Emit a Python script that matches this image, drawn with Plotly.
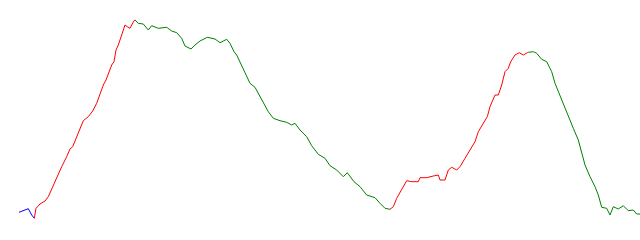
import plotly.graph_objects as go

# Segment data (x = time index, y = value)
blue_x = [0, 9.3, 12.7, 15.3]
blue_y = [27.7, 31.3, 25.0, 21.7]

red1_x = [15.3, 17, 21, 26, 29.3, 31, 34.3, 36.7, 39.3, 42.7, 47.7, 51, 53.7, 57.7, 62, 64.3, 69.3, 73.7, 77.7, 80, 82, 84.3, 87, 89.3, 92.7, 95, 97, 99.3, 101.7, 103.7, 106, 108.3, 110.3, 111, 115, 116]
red1_y = [21.7, 31.7, 36, 39, 43.3, 47.3, 53.3, 60, 65, 73.3, 83.3, 91, 93.3, 103.3, 113.3, 119.3, 123.3, 129, 136.7, 143.3, 149.3, 155, 160, 166.7, 175, 178.3, 190, 195, 201.7, 206.7, 215, 213.3, 211.7, 211.7, 219.3, 220]

green1_x = [116, 119.3, 124.3, 129.3, 132.7, 139.3, 147.7, 152.7, 157.7, 162.7, 166, 169.3, 172, 176, 181, 188.3, 196, 201, 207.7, 211, 215, 217.7, 221, 226, 231, 236, 241, 246, 249.3, 254.3, 261, 267.7, 272.7, 276, 281, 287.7, 292.7, 299.3, 306, 311, 317.7, 324.3, 328.3, 335, 341, 347.7, 356, 361, 366, 371]
green1_y = [220, 216.7, 216, 210, 214.3, 211.7, 212.7, 209, 207.3, 201.7, 194, 192.3, 191, 195, 199, 202.7, 201, 197.3, 200.7, 196.7, 188.3, 185, 178.3, 166.7, 156.7, 152.7, 143.3, 135, 128.3, 121.7, 119.3, 117.7, 115, 116.7, 110, 103.3, 94.3, 85.7, 81.7, 74.3, 70, 63.3, 67.3, 58.3, 53.3, 45, 42.3, 36.7, 31.7, 30.7]

red2_x = [371, 374.3, 377.7, 382.7, 387.7, 392.7, 399.3, 401, 407.7, 414.3, 419.3, 421, 426, 429.3, 432.7, 437.7, 441, 446, 451, 456, 459.3, 464.3, 468.3, 471, 476, 479.3, 482.7, 486, 489.3, 491.7, 496, 500.3, 504.3, 508.3, 509.3]
red2_y = [30.7, 33.3, 41.7, 50, 59.3, 58.3, 58.3, 62.3, 62.3, 64, 65, 60, 60, 70, 72.7, 70, 73.3, 81.7, 90, 98.3, 108.3, 116.7, 123.3, 133.3, 145, 145, 155, 168.3, 171.7, 178.3, 185, 187.3, 185, 187.3, 187.7]

green2_x = [509.3, 514.3, 517.7, 522.7, 527.7, 532.7, 536, 539.3, 544.3, 547.7, 551, 554.3, 559.3, 562.7, 566, 571, 576, 579.3, 582.7, 587.7, 591, 594.3, 599.3, 604.3, 609.3, 614.3, 617.7, 621]
green2_y = [187.7, 188.3, 186.7, 180.7, 178.3, 168.3, 156.7, 148.3, 136.7, 128.3, 118.3, 111.7, 100, 88.3, 75, 63.3, 53.3, 45, 32.7, 31.7, 25, 33.3, 31, 34.3, 29.3, 30, 26, 26]

segments = [
    (blue_x, blue_y, "#0000ff"),
    (red1_x, red1_y, "#ff0000"),
    (green1_x, green1_y, "#008000"),
    (red2_x, red2_y, "#ff0000"),
    (green2_x, green2_y, "#008000"),
]

fig = go.Figure()
for xs, ys, col in segments:
    fig.add_trace(go.Scatter(x=xs, y=ys, mode="lines",
                             line=dict(color=col, width=1),
                             hoverinfo="skip", showlegend=False))

fig.update_layout(
    width=640, height=240,
    margin=dict(l=0, r=0, t=0, b=0),
    paper_bgcolor="white", plot_bgcolor="white",
    xaxis=dict(range=[-19, 621], visible=False, fixedrange=True),
    yaxis=dict(range=[0, 240], visible=False, fixedrange=True),
)

fig.write_html("out.html", config={"displayModeBar": False})
